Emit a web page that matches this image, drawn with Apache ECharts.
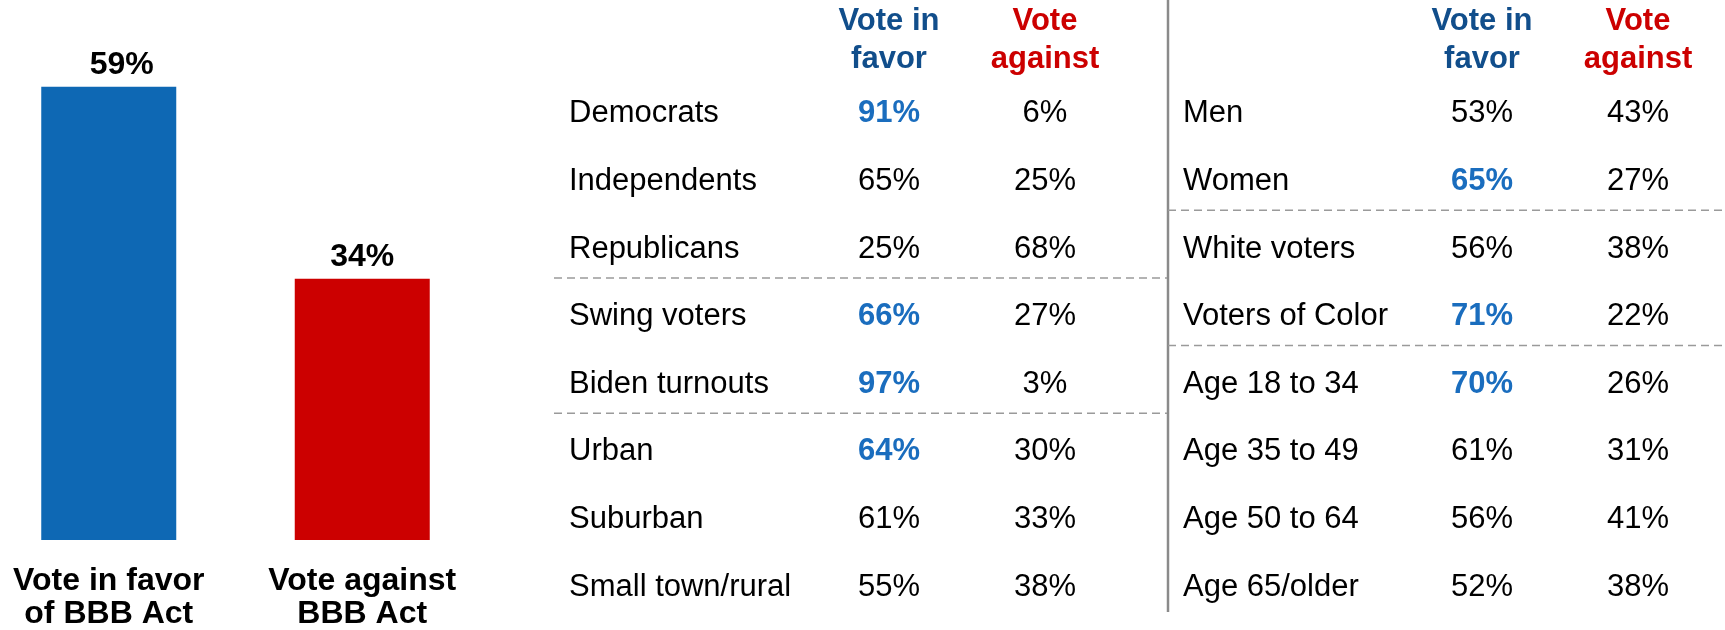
<!DOCTYPE html>
<html>
<head>
<meta charset="utf-8">
<script src="https://cdn.jsdelivr.net/npm/echarts@6/dist/echarts.min.js"></script>
<style>
  html, body { margin: 0; padding: 0; background: #fff; }
  #main { width: 1725px; height: 630px; }
</style>
</head>
<body>
<div id="main"></div>
<script>
// overall result
var barNames = ['Vote in favor\nof BBB Act', 'Vote against\nBBB Act'];
var barValues = [59, 34];
var barColors = ['#0E68B4', '#CC0000'];

// table headers
var columns = ['Vote in\nfavor', 'Vote\nagainst'];

// left table
var groupsA = ['Democrats', 'Independents', 'Republicans', 'Swing voters', 'Biden turnouts', 'Urban', 'Suburban', 'Small town/rural'];
var favorA = [91, 65, 25, 66, 97, 64, 61, 55];
var againstA = [6, 25, 68, 27, 3, 30, 33, 38];
var boldA = [true, false, false, true, true, true, false, false];
var breaksA = [3, 5]; // dashed line before these rows

// right table
var groupsB = ['Men', 'Women', 'White voters', 'Voters of Color', 'Age 18 to 34', 'Age 35 to 49', 'Age 50 to 64', 'Age 65/older'];
var favorB = [53, 65, 56, 71, 70, 61, 56, 52];
var againstB = [43, 27, 38, 22, 26, 31, 41, 38];
var boldB = [false, true, false, true, true, false, false, false];
var breaksB = [2, 4];

var FONT = 'Arial, "Liberation Sans", sans-serif';
var headColors = ['#114E8B', '#CC0000'];
var TSIZE = 31;

function cells(fav, ag, bold) {
    var out = [];
    for (var i = 0; i < fav.length; i++) {
        out.push({
            value: [0, i, fav[i]],
            label: bold[i] ? { color: '#1A6DBE', fontWeight: 'bold' } : {}
        });
        out.push({ value: [1, i, ag[i]] });
    }
    return out;
}

function tableAxes(idx, groups, labelMargin) {
    return {
        x: {
            type: 'category', gridIndex: idx, position: 'top', data: columns,
            axisLine: { show: false }, axisTick: { show: false },
            axisLabel: {
                margin: 2, fontFamily: FONT, fontSize: TSIZE, fontWeight: 'bold', lineHeight: 38,
                color: function (v, i) { return headColors[i]; }
            }
        },
        y: {
            type: 'category', gridIndex: idx, inverse: true, data: groups,
            axisLine: { show: false }, axisTick: { show: false },
            axisLabel: { align: 'left', margin: labelMargin, fontFamily: FONT, fontSize: TSIZE, color: '#000' }
        }
    };
}

function sepAxes(idx, n) {
    return {
        x: { type: 'value', gridIndex: idx, min: 0, max: 1, show: false },
        y: { type: 'value', gridIndex: idx, min: 0, max: n, inverse: true, show: false }
    };
}

function cellSeries(axis, fav, ag, bold) {
    return {
        type: 'scatter', xAxisIndex: axis, yAxisIndex: axis, symbolSize: 0, silent: true,
        itemStyle: { opacity: 1 },
        data: cells(fav, ag, bold),
        label: {
            show: true, position: [0, 0], align: 'center', verticalAlign: 'middle',
            fontFamily: FONT, fontSize: TSIZE, color: '#000',
            formatter: function (p) { return p.value[2] + '%'; }
        }
    };
}

function sepSeries(axis, breaks) {
    return breaks.map(function (b) {
        return {
            type: 'line', xAxisIndex: axis, yAxisIndex: axis, symbol: 'none', silent: true,
            data: [[0, b], [1, b]],
            lineStyle: { type: [8, 5], color: '#9A9A9A', width: 1.5 }
        };
    });
}

var tA = tableAxes(1, groupsA, 242);
var sA = sepAxes(2, groupsA.length);
var tB = tableAxes(3, groupsB, 221);
var sB = sepAxes(4, groupsB.length);

var rowTop = 80, rowH = 541;

var option = {
    animation: false,
    textStyle: { fontFamily: FONT },
    grid: [
        { left: -18, width: 507, top: 79, height: 461, outerBoundsMode: 'none' },
        { left: 811, width: 312, top: rowTop, height: rowH, outerBoundsMode: 'none' },
        { left: 554, width: 613, top: rowTop - 5, height: rowH, outerBoundsMode: 'none' },
        { left: 1404, width: 312, top: rowTop, height: rowH, outerBoundsMode: 'none' },
        { left: 1168, width: 557, top: rowTop - 5, height: rowH, outerBoundsMode: 'none' }
    ],
    xAxis: [
        {
            type: 'category', gridIndex: 0, data: barNames,
            axisLine: { show: false }, axisTick: { show: false },
            axisLabel: { margin: 25, fontFamily: FONT, fontSize: 32, fontWeight: 'bold', color: '#000', lineHeight: 33 }
        },
        tA.x, sA.x, tB.x, sB.x
    ],
    yAxis: [
        { type: 'value', gridIndex: 0, min: 0, max: 60, show: false },
        tA.y, sA.y, tB.y, sB.y
    ],
    series: [
        {
            type: 'bar', xAxisIndex: 0, yAxisIndex: 0, barWidth: 135,
            data: barValues.map(function (v, i) {
                return {
                    value: v,
                    itemStyle: { color: barColors[i] },
                    label: i === 0 ? { offset: [13, 0] } : {}
                };
            }),
            label: {
                show: true, position: 'top', distance: 6, formatter: '{c}%',
                fontFamily: FONT, fontSize: 32, fontWeight: 'bold', color: '#000'
            }
        },
        cellSeries(1, favorA, againstA, boldA),
        cellSeries(3, favorB, againstB, boldB)
    ].concat(sepSeries(2, breaksA), sepSeries(4, breaksB)),
    graphic: [
        {
            type: 'line', shape: { x1: 1168, y1: 0, x2: 1168, y2: 612 },
            style: { stroke: '#8A8A8A', lineWidth: 2.5 }
        }
    ]
};

var chart = echarts.init(document.getElementById('main'));
chart.setOption(option);
</script>
</body>
</html>
